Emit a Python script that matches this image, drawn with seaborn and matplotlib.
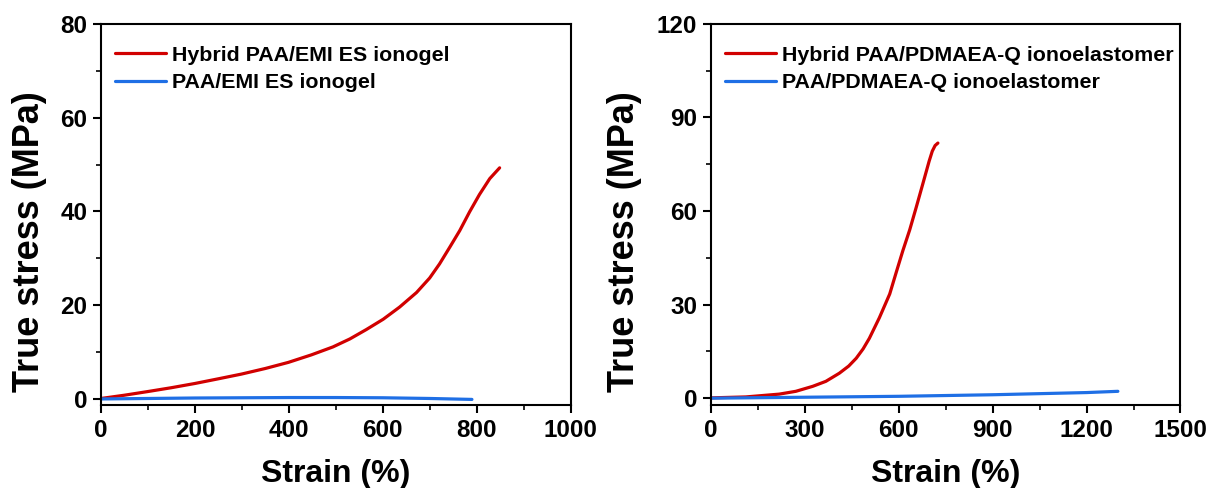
import numpy as np
import pandas as pd
import matplotlib
matplotlib.use("Agg")
import matplotlib.pyplot as plt
from matplotlib.ticker import MultipleLocator
import seaborn as sns

# Left panel: EMI ES ionogels
gel_hybrid_strain = [0, 50, 101, 150, 200, 250, 299, 350, 399, 448, 494, 530, 565, 601, 636, 672, 700, 721, 743, 764, 785, 806, 828, 849]
gel_hybrid_stress = [0.1, 0.8, 1.6, 2.4, 3.3, 4.3, 5.3, 6.5, 7.8, 9.4, 11.1, 12.8, 14.8, 17.0, 19.6, 22.7, 25.8, 28.8, 32.4, 35.9, 39.9, 43.6, 47.0, 49.3]
gel_plain_strain = [0, 100, 200, 300, 400, 500, 600, 700, 790]
gel_plain_stress = [0.0, 0.1, 0.2, 0.25, 0.3, 0.3, 0.25, 0.1, -0.1]

# Right panel: PDMAEA-Q ionoelastomers
elast_hybrid_strain = [0, 111, 218, 271, 325, 367, 410, 440, 464, 486, 506, 538, 571, 592, 613, 635, 656, 677, 697, 707, 716, 725]
elast_hybrid_stress = [0.1, 0.4, 1.3, 2.2, 3.8, 5.4, 8.0, 10.3, 12.8, 15.8, 19.2, 25.8, 33.4, 40.4, 47.3, 54.0, 61.3, 68.8, 76.0, 79.2, 81.0, 81.8]
elast_plain_strain = [0, 300, 600, 900, 1200, 1300]
elast_plain_stress = [0.0, 0.3, 0.6, 1.1, 1.8, 2.2]

gel_labels = ["Hybrid PAA/EMI ES ionogel", "PAA/EMI ES ionogel"]
elast_labels = ["Hybrid PAA/PDMAEA-Q ionoelastomer", "PAA/PDMAEA-Q ionoelastomer"]

RED = "#d10000"
BLUE = "#1f6fe5"

sns.set_style("ticks")
plt.rcParams["font.family"] = ["Liberation Sans", "DejaVu Sans"]
plt.rcParams["font.weight"] = "bold"
plt.rcParams["text.color"] = "black"
plt.rcParams["axes.labelcolor"] = "black"
plt.rcParams["xtick.color"] = "black"
plt.rcParams["ytick.color"] = "black"

fig = plt.figure(figsize=(12.1, 4.88), dpi=100)
ax1 = fig.add_axes([0.0835, 0.170, 0.388, 0.781])
ax2 = fig.add_axes([0.5876, 0.170, 0.388, 0.781])


def draw(ax, xs, ys, labels):
    frames = []
    for x, y, lab in zip(xs, ys, labels):
        frames.append(pd.DataFrame({"strain": x, "stress": y, "sample": lab}))
    df = pd.concat(frames, ignore_index=True)
    sns.lineplot(data=df, x="strain", y="stress", hue="sample",
                 palette=[RED, BLUE], hue_order=labels, sort=False,
                 linewidth=2.3, ax=ax, estimator=None)


draw(ax1, [gel_hybrid_strain, gel_plain_strain], [gel_hybrid_stress, gel_plain_stress], gel_labels)
draw(ax2, [elast_hybrid_strain, elast_plain_strain], [elast_hybrid_stress, elast_plain_stress], elast_labels)

ax1.set_xlim(0, 1000)
ax1.set_ylim(-1.3, 80)
ax1.xaxis.set_major_locator(MultipleLocator(200))
ax1.xaxis.set_minor_locator(MultipleLocator(100))
ax1.yaxis.set_major_locator(MultipleLocator(20))
ax1.yaxis.set_minor_locator(MultipleLocator(10))

ax2.set_xlim(0, 1500)
ax2.set_ylim(-2.2, 120)
ax2.xaxis.set_major_locator(MultipleLocator(300))
ax2.xaxis.set_minor_locator(MultipleLocator(150))
ax2.yaxis.set_major_locator(MultipleLocator(30))
ax2.yaxis.set_minor_locator(MultipleLocator(15))

for ax, ylab_x in ((ax1, -0.115), (ax2, -0.147)):
    for side in ["top", "right", "left", "bottom"]:
        ax.spines[side].set_visible(True)
        ax.spines[side].set_linewidth(1.5)
        ax.spines[side].set_color("black")
    ax.tick_params(which="major", direction="out", length=6, width=1.5,
                   labelsize=17.5, colors="black", pad=4)
    ax.tick_params(which="minor", direction="out", length=3.5, width=1.2, colors="black")
    ax.tick_params(top=False, right=False, which="both")
    for t in ax.get_xticklabels() + ax.get_yticklabels():
        t.set_fontweight("bold")
    ax.set_xlabel("Strain (%)", fontsize=23, fontweight="bold", labelpad=12, color="black")
    ax.set_ylabel("True stress (MPa)", fontsize=26, fontweight="bold", color="black")
    ax.yaxis.set_label_coords(ylab_x, 0.43)
    leg = ax.legend(loc="upper left", bbox_to_anchor=(-0.012, 0.993), frameon=False,
                    handlelength=2.4, handletextpad=0.3, labelspacing=0.4,
                    borderaxespad=0.5,
                    prop={"size": 15.4, "weight": "bold"})
    for line in leg.get_lines():
        line.set_linewidth(2.3)
    for t in leg.get_texts():
        t.set_color("black")

fig.savefig("out.png", dpi=100)
